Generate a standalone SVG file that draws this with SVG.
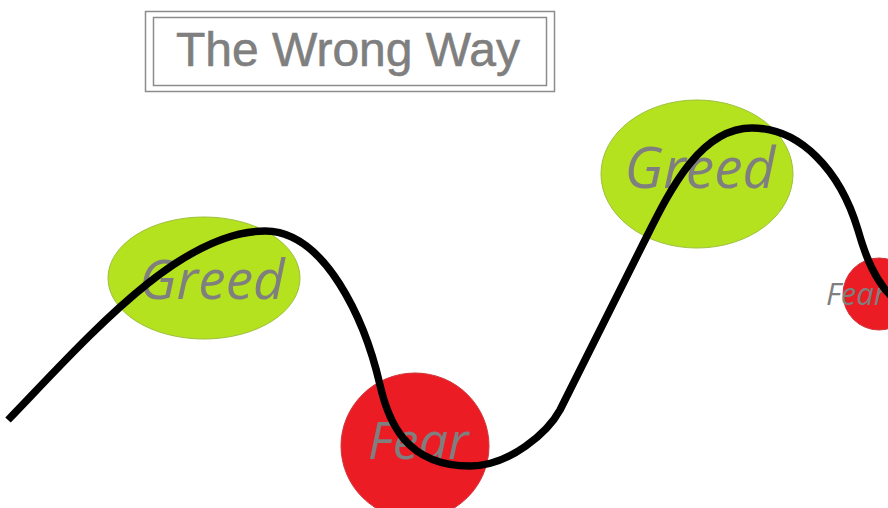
<svg xmlns="http://www.w3.org/2000/svg" width="888" height="508" viewBox="0 0 888 508">
  <style>
    .frame { fill: none; stroke: #8c8c8c; stroke-width: 1.5; }
    .title { font-family: "Liberation Sans", Arial, sans-serif; font-size: 48px; fill: #7f7f7f; stroke: #7f7f7f; stroke-width: 0.6; }
    .greed { fill: #b5e21f; stroke: #9cc03a; stroke-width: 1; }
    .fear { fill: #ec1c24; stroke: #d0343a; stroke-width: 1; }
    .label { font-family: "Open Sans", "Noto Sans", sans-serif; font-style: italic; fill: #7f7f7f; }
    .wave { fill: none; stroke: #000; stroke-width: 7.5; stroke-linecap: butt; stroke-linejoin: round; }
  </style>

  <rect width="888" height="508" fill="#ffffff"/>

  <!-- title box -->
  <g id="title">
    <rect class="frame" x="145.5" y="11.5" width="409" height="80"/>
    <rect class="frame" x="153.5" y="17.5" width="393" height="68"/>
    <text class="title" x="348" y="66" text-anchor="middle">The Wrong Way</text>
  </g>

  <!-- emotion bubbles -->
  <g id="greed-1">
    <ellipse class="greed" cx="204" cy="278" rx="96" ry="61"/>
    <text class="label" x="212" y="299" font-size="55" text-anchor="middle">Greed</text>
  </g>

  <g id="fear-1">
    <ellipse class="fear" cx="415" cy="446" rx="74" ry="73"/>
    <text class="label" x="418" y="459" font-size="52" text-anchor="middle">Fear</text>
  </g>

  <g id="greed-2">
    <ellipse class="greed" cx="697" cy="174" rx="96" ry="74"/>
    <text class="label" x="700" y="188" font-size="57" text-anchor="middle">Greed</text>
  </g>

  <g id="fear-2">
    <circle class="fear" cx="879" cy="294" r="36"/>
    <text class="label" x="826" y="305" font-size="31">Fear</text>
  </g>

  <!-- market wave -->
  <g id="connectors">
    <path class="wave" d="M 8,420
      C 90,335 180,231 265,231
      C 325,231 365,320 380,385
      C 388,420 405,466 470,466
      C 510,466 548,432 560,410
      L 645,240
      C 670,190 700,128 752,128
      C 800,128 840,170 858,230
      C 866,258 875,280 892,297"/>
  </g>
</svg>
